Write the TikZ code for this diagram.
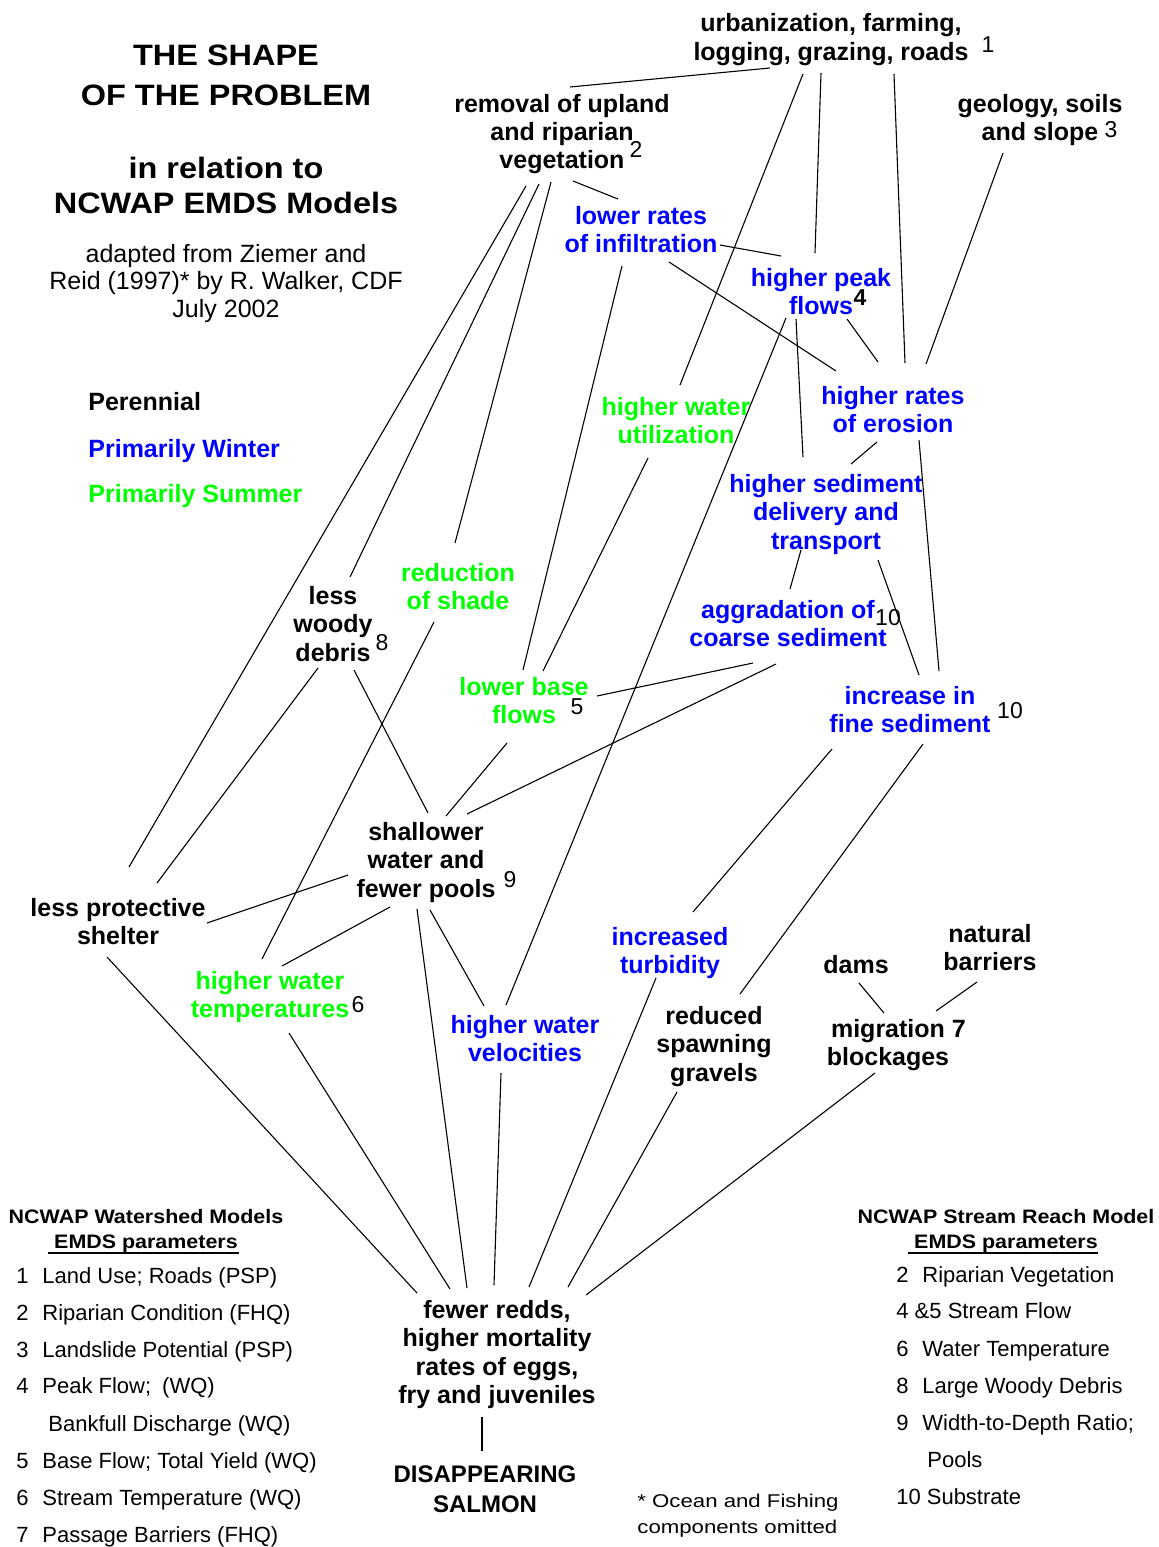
\documentclass[tikz,border=0pt]{standalone}
\usepackage{fontspec}
\setmainfont{Liberation Sans}
\newfontfamily\widefont[FakeStretch=1.1]{Liberation Sans}
\newfontfamily\widerfont[FakeStretch=1.2]{Liberation Sans}
\definecolor{wblue}{RGB}{0,0,255}
\definecolor{sgreen}{RGB}{0,255,0}
\newcommand\lnum[1]{\hbox to 13pt{#1\hfil}}
\newcommand\ml[1]{\begin{tabular}[t]{@{}c@{}}#1\end{tabular}}
\newcommand\mll[1]{\begin{tabular}[t]{@{}l@{}}#1\end{tabular}}
\newcommand\lk[4]{\draw[conn] ([shift={#2}]#1.base) -- ([shift={#4}]#3.base);}
\begin{document}
\begin{tikzpicture}[x=0.5pt,y=-0.5pt,
  lbl/.style={inner sep=0pt, anchor=base, font=\fontsize{12.5}{14.25}\selectfont\bfseries},
  per/.style={lbl,text=black},
  win/.style={lbl,text=wblue},
  sum/.style={lbl,text=sgreen},
  idx/.style={inner sep=0pt, anchor=base, font=\fontsize{11.5}{13}\selectfont},
  ttl/.style={inner sep=0pt, anchor=base, font=\widefont\fontsize{14.75}{20}\selectfont\bfseries},
  hdr/.style={inner sep=0pt, anchor=base, font=\widefont\fontsize{9.75}{12.5}\selectfont\bfseries},
  item/.style={inner sep=0pt, anchor=base west, font=\fontsize{11}{13}\selectfont},
  conn/.style={line width=0.55pt, black}]
\fill[white] (0,0) rectangle (1159,1547);
\useasboundingbox (0,0) rectangle (1159,1547);

% title block
\node[ttl] (t1) at (226,65) {\ml{THE SHAPE\\OF THE PROBLEM}};
\node[ttl, font=\widefont\fontsize{14.75}{17.5}\selectfont\bfseries] (t2) at (226,178) {\ml{in relation to\\NCWAP EMDS Models}};
\node[lbl, font=\fontsize{12.5}{13.75}\selectfont] (t3) at (226,262) {\ml{adapted from Ziemer and\\Reid (1997)* by R. Walker, CDF\\July 2002}};

% legend
\node[per, anchor=base west] (lp) at (88,410) {Perennial};
\node[win, anchor=base west] (lw) at (88,457) {Primarily Winter};
\node[sum, anchor=base west] (ls) at (88,502) {Primarily Summer};

% diagram nodes
\node[per] (urb) at (831,32) {\ml{urbanization, farming,\\logging, grazing, roads}};
\node[idx] (n1) at (988,52) {1};
\node[per] (rem) at (562,112) {\ml{removal of upland\\and riparian\\vegetation}};
\node[idx] (n2) at (636,157) {2};
\node[per] (geo) at (1040,112) {\ml{geology, soils\\and slope}};
\node[idx] (n3) at (1111,137) {3};
\node[win] (inf) at (641,224) {\ml{lower rates\\of infiltration}};
\node[win] (peak) at (821,286) {\ml{higher peak\\flows}};
\node[idx, font=\fontsize{11.5}{13}\selectfont\bfseries] (n4) at (860,305) {4};
\node[sum] (util) at (676,415) {\ml{higher water\\utilization}};
\node[win] (eros) at (893,404) {\ml{higher rates\\of erosion}};
\node[win] (sed) at (826,492) {\ml{higher sediment\\delivery and\\transport}};
\node[win] (aggr) at (788,618) {\ml{aggradation of\\coarse sediment}};
\node[idx] (n10a) at (888,625) {10};
\node[win] (fine) at (910,704) {\ml{increase in\\fine sediment}};
\node[idx] (n10b) at (1010,718) {10};
\node[sum] (shade) at (458,581) {\ml{reduction\\of shade}};
\node[per] (woody) at (333,604) {\ml{less\\woody\\debris}};
\node[idx] (n8) at (382,650) {8};
\node[sum] (base) at (524,695) {\ml{lower base\\flows}};
\node[idx] (n5) at (577,714) {5};
\node[per] (shal) at (426,840) {\ml{shallower\\water and\\fewer pools}};
\node[idx] (n9) at (510,887) {9};
\node[per] (shel) at (118,916) {\ml{less protective\\shelter}};
\node[sum] (temp) at (270,989) {\ml{higher water\\temperatures}};
\node[idx] (n6) at (358,1012) {6};
\node[win] (velo) at (525,1033) {\ml{higher water\\velocities}};
\node[win] (turb) at (670,945) {\ml{increased\\turbidity}};
\node[per] (grav) at (714,1024) {\ml{reduced\\spawning\\gravels}};
\node[per] (dams) at (856,973) {dams};
\node[per] (nat) at (990,942) {\ml{natural\\barriers}};
\node[per] (mig) at (888,1037) {\ml{migration\rlap{ 7}\\blockages}};
\node[per] (redds) at (497,1318) {\ml{fewer redds,\\higher mortality\\rates of eggs,\\fry and juveniles}};
\node[per, font=\fontsize{12}{15}\selectfont\bfseries] (salm) at (485,1482) {\ml{DISAPPEARING\\SALMON}};

% connectors
\lk{urb}{(-61,36)}{rem}{(8,-25)}
\lk{urb}{(-28,42)}{util}{(4,-30)}
\lk{urb}{(-10,41)}{peak}{(-6,-33)}
\lk{urb}{(63,42)}{eros}{(12,-41)}
\lk{geo}{(-37,41)}{eros}{(33,-40)}
\lk{rem}{(11,69)}{inf}{(-23,-25)}
\lk{inf}{(79,21)}{peak}{(-40,-30)}
\lk{inf}{(28,38)}{eros}{(-57,-33)}
\lk{inf}{(-19,42)}{base}{(-1,-25)}
\lk{rem}{(-36,74)}{shel}{(11,-49)}
\lk{rem}{(-23,72)}{woody}{(17,-27)}
\lk{rem}{(-11,70)}{shade}{(-3,-38)}
\lk{peak}{(-35,32)}{velo}{(-19,-28)}
\lk{peak}{(-25,33)}{sed}{(-23,-35)}
\lk{peak}{(26,33)}{eros}{(-15,-42)}
\lk{eros}{(-16,38)}{sed}{(25,-28)}
\lk{eros}{(26,36)}{fine}{(29,-33)}
\lk{sed}{(-25,58)}{aggr}{(2,-29)}
\lk{sed}{(52,68)}{fine}{(9,-29)}
\lk{aggr}{(-35,45)}{base}{(73,1)}
\lk{aggr}{(-12,46)}{shal}{(41,-26)}
\lk{base}{(-17,48)}{shal}{(20,-24)}
\lk{woody}{(21,66)}{shal}{(2,-27)}
\lk{woody}{(-15,64)}{shel}{(39,-33)}
\lk{shade}{(-24,41)}{temp}{(-8,-30)}
\lk{util}{(-28,43)}{base}{(19,-24)}
\lk{shal}{(-78,35)}{shel}{(89,7)}
\lk{shal}{(-36,67)}{temp}{(12,-23)}
\lk{shal}{(-9,69)}{redds}{(-30,-30)}
\lk{shal}{(4,70)}{velo}{(-41,-27)}
\lk{shel}{(-11,41)}{redds}{(-80,-25)}
\lk{temp}{(19,44)}{redds}{(-47,-29)}
\lk{velo}{(-24,40)}{redds}{(-3,-33)}
\lk{turb}{(-14,33)}{redds}{(32,-31)}
\lk{grav}{(-37,68)}{redds}{(71,-31)}
\lk{mig}{(-13,36)}{redds}{(89,-23)}
\lk{fine}{(-78,45)}{turb}{(23,-33)}
\lk{fine}{(13,40)}{grav}{(26,-30)}
\lk{dams}{(3,10)}{mig}{(-4,-24)}
\lk{nat}{(-13,40)}{mig}{(48,-26)}
\lk{redds}{(-15,99)}{salm}{(-3,-31)}

% left table
\node[hdr] (lh) at (146,1223) {\ml{NCWAP Watershed Models\\EMDS parameters}};
\draw[line width=0.7pt] (48,1253) -- (239,1253);
\node[item] (l1) at (16,1283) {\lnum{1}Land Use; Roads (PSP)};
\node[item] (l2) at (16,1320) {\lnum{2}Riparian Condition (FHQ)};
\node[item] (l3) at (16,1357) {\lnum{3}Landslide Potential (PSP)};
\node[item] (l4) at (16,1393) {\lnum{4}Peak Flow;\enspace (WQ)};
\node[item] (l4b) at (48,1431) {Bankfull Discharge (WQ)};
\node[item] (l5) at (16,1468) {\lnum{5}Base Flow; Total Yield (WQ)};
\node[item] (l6) at (16,1505) {\lnum{6}Stream Temperature (WQ)};
\node[item] (l7) at (16,1542) {\lnum{7}Passage Barriers (FHQ)};

% right table
\node[hdr] (rh) at (1006,1223) {\ml{NCWAP Stream Reach Model\\EMDS parameters}};
\draw[line width=0.7pt] (908,1253) -- (1098,1253);
\node[item] (r2) at (896,1282) {\lnum{2}Riparian Vegetation};
\node[item] (r4) at (896,1318) {4 \&5 Stream Flow};
\node[item] (r6) at (896,1356) {\lnum{6}Water Temperature};
\node[item] (r8) at (896,1393) {\lnum{8}Large Woody Debris};
\node[item] (r9) at (896,1430) {\lnum{9}Width-to-Depth Ratio;};
\node[item] (r9b) at (927,1467) {Pools};
\node[item] (r10) at (896,1504) {10\hspace{3pt}Substrate};

% footnote
\node[inner sep=0pt, anchor=base west, font=\widerfont\fontsize{9.25}{13}\selectfont] (note) at (637,1507) {\mll{* Ocean and Fishing\\components omitted}};
\end{tikzpicture}
\end{document}
